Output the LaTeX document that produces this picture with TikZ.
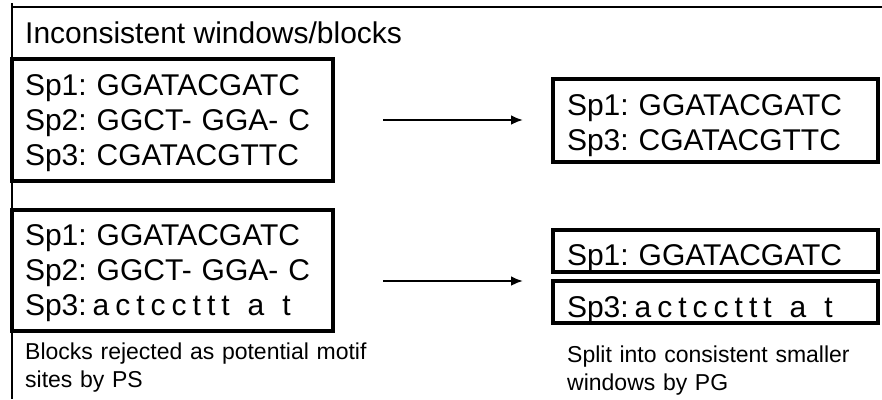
\documentclass[tikz,border=0pt]{standalone}
\usepackage{fontspec}
\setmainfont{Liberation Sans}
\usetikzlibrary{arrows.meta}
\frenchspacing
\newcommand{\lowseq}{{\spaceskip=0.2em\relax Sp3: a c t c c t t t\hspace{0.6em}a\hspace{0.6em}t}}

\begin{document}
\begin{tikzpicture}[x=1pt, y=-1pt, >={Latex[length=12pt, width=10pt]},
  seq/.style={font=\fontsize{30}{35}\selectfont},
  note/.style={font=\fontsize{23}{28}\selectfont, anchor=base west, inner sep=0pt, align=left},
  blockbox/.style={draw, line width=3.2pt, outer sep=0pt, anchor=north west, inner xsep=13pt, inner ysep=0pt, align=left, seq},
  splitbox/.style={blockbox, inner xsep=14pt, text width=297pt}]
\useasboundingbox (0,0) rectangle (882,399);
\draw[line width=2.8pt] (12,3) -- (12,399);
\draw[line width=2.8pt] (11,7) -- (882,7);
\node[seq, anchor=base west, inner sep=0pt] (title) at (25,43) {Inconsistent windows/blocks};
% blocks on the left
\node[blockbox, text width=295pt, text height=36pt, text depth=86pt] (blockA) at (12,59)
  {Sp1: GGATACGATC\\Sp2: GGCT- GGA- C\\Sp3: CGATACGTTC};
\node[blockbox, text width=295pt, text height=35pt, text depth=86pt] (blockB) at (12,210)
  {Sp1: GGATACGATC\\Sp2: GGCT- GGA- C\\\lowseq};
% smaller windows on the right
\node[splitbox, text height=36pt, text depth=47pt] (splitA) at (553,79)
  {Sp1: GGATACGATC\\Sp3: CGATACGTTC};
\node[splitbox, text height=35pt, text depth=7pt] (splitB) at (553,230) {Sp1: GGATACGATC};
\node[splitbox, text height=36pt, text depth=6pt] (splitC) at (553,281) {\lowseq};
\draw[->, line width=2.4pt, shorten <=50pt, shorten >=30pt] (blockA.east) -- (blockA.east -| splitA.west);
\draw[->, line width=2.4pt, shorten <=50pt, shorten >=30pt] (blockB.east |- splitC.north) -- (splitC.north west);
\node[note, text width=360pt] (rejectnote) at (25,359) {Blocks rejected as potential motif\\sites by PS};
\node[note, text width=300pt] (splitnote) at (567,362) {Split into consistent smaller\\windows by PG};
\end{tikzpicture}
\end{document}
